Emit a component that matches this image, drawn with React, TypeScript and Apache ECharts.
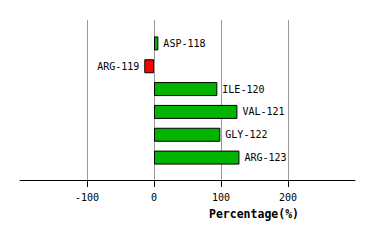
import React, { useEffect, useRef } from "react";
import * as echarts from "echarts";

const categories = ["ASP-118", "ARG-119", "ILE-120", "VAL-121", "GLY-122", "ARG-123"];
const values = [6.5, -14.5, 94.5, 124.5, 99, 127.5];
const tickValues = [-100, 0, 100, 200];
const axisTitle = "Percentage(%)";

const FONT = "DejaVu Sans Mono";

export default function App() {
  const ref = useRef<HTMLDivElement>(null);
  useEffect(() => {
    if (!ref.current) return;
    const chart = echarts.init(ref.current, undefined, { renderer: "svg" });
    chart.setOption({
      animation: false,
      backgroundColor: "#ffffff",
      grid: [
        { left: 20, right: 19, top: 20, height: 160, containLabel: false },
        { left: 20, right: 19, top: 32, height: 137, containLabel: false },
      ],
      xAxis: [
        {
          type: "value",
          gridIndex: 0,
          min: -200,
          max: 300,
          interval: 100,
          axisLine: { show: true, onZero: false, lineStyle: { color: "#000", width: 1 } },
          axisTick: { show: true, length: 7, lineStyle: { color: "#000" }, customValues: tickValues },
          axisLabel: {
            customValues: tickValues,
            color: "#000",
            fontFamily: FONT,
            fontSize: 10,
            margin: 12,
          },
          splitLine: { show: true, lineStyle: { color: "#999", width: 1 } },
        },
        {
          type: "value",
          gridIndex: 1,
          min: -200,
          max: 300,
          show: false,
          splitLine: { show: false },
        },
      ],
      yAxis: [
        { type: "category", gridIndex: 0, data: [], show: false },
        {
          type: "category",
          gridIndex: 1,
          data: categories,
          inverse: true,
          show: false,
        },
      ],
      series: [
        {
          type: "bar",
          xAxisIndex: 1,
          yAxisIndex: 1,
          barWidth: 14,
          data: values.map((v) => ({
            value: v,
            itemStyle: {
              color: v >= 0 ? "#00b400" : "#ff0000",
              borderColor: "#000",
              borderWidth: 1,
            },
            label: {
              show: true,
              position: v >= 0 ? "right" : "left",
              distance: 5,
            },
          })),
          label: {
            show: true,
            color: "#000",
            fontFamily: FONT,
            fontSize: 10,
            formatter: (p: any) => categories[p.dataIndex],
          },
        },
      ],
      graphic: [
        {
          type: "text",
          x: 254,
          y: 214,
          style: {
            text: axisTitle,
            fontFamily: FONT,
            fontSize: 11.5,
            fontWeight: "bold",
            fill: "#000",
            align: "center",
            verticalAlign: "middle",
          },
        },
      ],
    });
    return () => chart.dispose();
  }, []);
  return <div ref={ref} style={{ width: 374, height: 240, position: "absolute", left: 0, top: 0 }} />;
}
